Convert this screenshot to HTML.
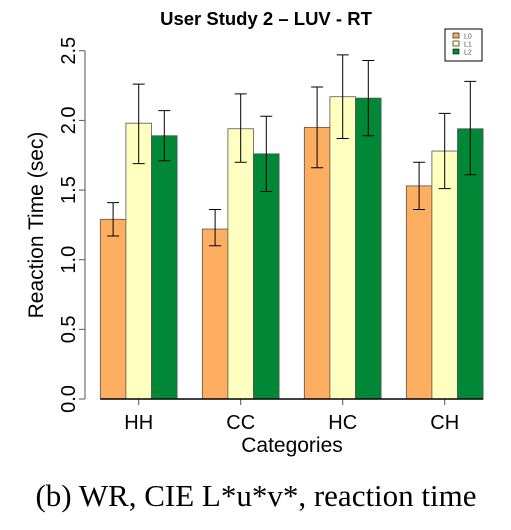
<!DOCTYPE html>
<html><head><meta charset="utf-8"><style>
body{margin:0;background:#fff;}
svg text{font-family:"Liberation Sans",sans-serif;}
</style></head><body>
<svg width="511" height="525" xmlns="http://www.w3.org/2000/svg" id="c">
<text x="266" y="25" text-anchor="middle" font-size="18.5" font-weight="bold">User  Study 2 – LUV - RT</text>
<text transform="translate(43,225) rotate(-90)" text-anchor="middle" font-size="21">Reaction Time (sec)</text>
<text x="292" y="452" text-anchor="middle" font-size="21">Categories</text>
<text x="256" y="506" text-anchor="middle" font-size="31" style="font-family:'Liberation Serif',serif">(b)  WR, CIE L*u*v*, reaction time</text>
<g id="plot"></g>
<g>
<rect x="445" y="29" width="37" height="32" fill="#fff" stroke="#000" stroke-width="1"/>
<rect x="453" y="33" width="6" height="5" fill="#fdae61" stroke="#000" stroke-width="0.6"/>
<rect x="453" y="41" width="6" height="5" fill="#ffffbf" stroke="#000" stroke-width="0.6"/>
<rect x="453" y="49" width="6" height="5" fill="#008837" stroke="#000" stroke-width="0.6"/>
<text x="464" y="38.5" font-size="7" fill="#555">L0</text>
<text x="464" y="46.5" font-size="7" fill="#555">L1</text>
<text x="464" y="54.5" font-size="7" fill="#555">L2</text>
</g>
</svg>
<script>
const categories=["HH","CC","HC","CH"];
const seriesNames=["L0","L1","L2"];
const L0=[1.29,1.22,1.95,1.53];
const L1=[1.98,1.94,2.17,1.78];
const L2=[1.89,1.76,2.16,1.94];
const L0lo=[1.17,1.10,1.66,1.36], L0hi=[1.41,1.36,2.24,1.70];
const L1lo=[1.69,1.70,1.87,1.51], L1hi=[2.26,2.19,2.47,2.05];
const L2lo=[1.71,1.49,1.89,1.61], L2hi=[2.07,2.03,2.43,2.28];
const yTicks=[0,0.5,1,1.5,2,2.5];
const yTickLabels=["0.0","0.5","1.0","1.5","2.0","2.5"];
const colors=["#fdae61","#ffffbf","#008837"];
const NS="http://www.w3.org/2000/svg";
const g=document.getElementById('plot');
const y0=399,pxPerUnit=139.3,x0=100.3,groupW=102,barW=25.6;
const y=v=>y0-v*pxPerUnit;
const x=(gi,si)=>x0+gi*groupW+si*barW;
function mk(t,a){const e=document.createElementNS(NS,t);for(const k in a)e.setAttribute(k,a[k]);g.appendChild(e);return e;}
let ax=mk('line',{x1:85,x2:85,y1:y(2.5),y2:y(0),stroke:'#555'});


yTicks.forEach((t,i)=>{
 let l=mk('line',{x1:79,x2:85,y1:y(t),y2:y(t),stroke:'#555'});
 
 
 let tx=mk('text',{transform:`translate(75,${y(t)}) rotate(-90)`,'text-anchor':'middle','font-size':20});
 tx.textContent=yTickLabels[i];
 
 
});
const vals=[L0,L1,L2],los=[L0lo,L1lo,L2lo],his=[L0hi,L1hi,L2hi];
categories.forEach((c,gi)=>{
 vals.forEach((s,si)=>{
  let r=mk('rect',{x:x(gi,si),y:y(s[gi]),width:barW,height:y0-y(s[gi]),fill:colors[si],stroke:'#555','stroke-width':0.8});
  
  
  const cx=x(gi,si)+barW/2;
  let e=mk('path',{d:`M${cx-6},${y(his[si][gi])}H${cx+6}M${cx},${y(his[si][gi])}V${y(los[si][gi])}M${cx-6},${y(los[si][gi])}H${cx+6}`,stroke:'#000',fill:'none','stroke-width':1});
  
  
 });
 const mx=x(gi,1)+barW/2;
 let tk=mk('line',{x1:mx,x2:mx,y1:y0,y2:y0+6,stroke:'#555'});
 
 
 let t=mk('text',{x:mx,y:429,'text-anchor':'middle','font-size':20});
 t.textContent=c;
 
 
});
let bl=mk('line',{x1:x(0,0),x2:x(3,2)+barW,y1:y0,y2:y0,stroke:'#000','stroke-width':1.5});


</script>
</body></html>
